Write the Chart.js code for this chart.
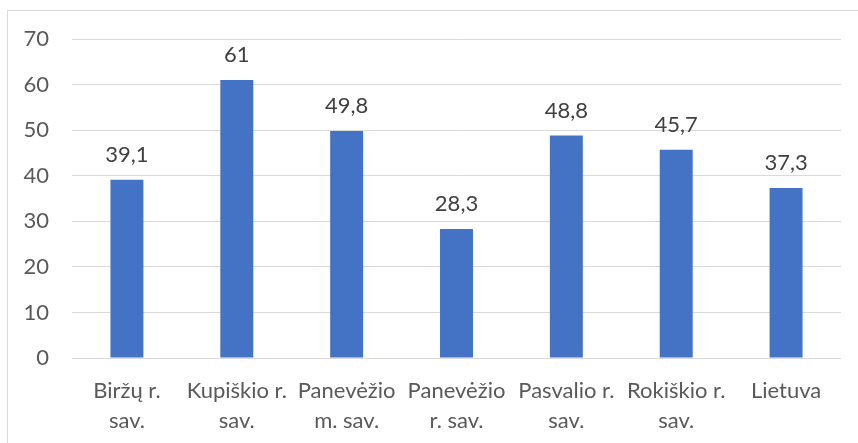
<!DOCTYPE html>
<html>
<head>
<meta charset="utf-8">
<script src="https://cdn.jsdelivr.net/npm/chart.js@4/dist/chart.umd.min.js"></script>
<style>
  html, body { margin: 0; padding: 0; background: #fff; }
  #wrap { position: relative; width: 858px; height: 443px; overflow: hidden; }
  #frame { position: absolute; left: 7px; top: 10px; width: 900px; height: 500px;
           border-left: 1px solid #d9d9d9; border-top: 1px solid #d9d9d9; }
  canvas { position: absolute; left: 0; top: 0; }
</style>
</head>
<body>
<div id="wrap">
  <div id="frame"></div>
  <canvas id="c" width="858" height="443"></canvas>
</div>
<script>
const categories = [
  ["Biržų r.", "sav."],
  ["Kupiškio r.", "sav."],
  ["Panevėžio", "m. sav."],
  ["Panevėžio", "r. sav."],
  ["Pasvalio r.", "sav."],
  ["Rokiškio r.", "sav."],
  ["Lietuva"]
];
const values = [39.1, 61, 49.8, 28.3, 48.8, 45.7, 37.3];
const yTicks = [0, 10, 20, 30, 40, 50, 60, 70];

const FONT = "Lato";

const labelPlugin = {
  id: 'valueLabels',
  afterDatasetsDraw(chart) {
    const ctx = chart.ctx;
    const meta = chart.getDatasetMeta(0);
    ctx.save();
    ctx.font = "22px " + FONT;
    ctx.fillStyle = "#404040";
    ctx.textAlign = "center";
    ctx.textBaseline = "middle";
    meta.data.forEach((bar, i) => {
      const txt = String(values[i]).replace('.', ',');
      ctx.fillText(txt, bar.x, bar.y - 25);
    });
    ctx.restore();
  }
};

new Chart(document.getElementById('c'), {
  type: 'bar',
  data: {
    labels: categories,
    datasets: [{
      data: values,
      backgroundColor: '#4472C4',
      barPercentage: 0.3,
      categoryPercentage: 1.0
    }]
  },
  options: {
    responsive: false,
    animation: false,
    layout: { padding: { left: 0, right: 17, top: 39, bottom: 0 } },
    plugins: { legend: { display: false }, tooltip: { enabled: false } },
    scales: {
      x: {
        grid: { display: false },
        border: { display: false },
        ticks: {
          color: '#595959',
          font: { family: FONT, size: 22, lineHeight: 1.36 },
          padding: 10,
          maxRotation: 0,
          autoSkip: false
        },
        afterFit(scale) { scale.height = 85; }
      },
      y: {
        min: 0, max: 70,
        afterBuildTicks(scale) { scale.ticks = yTicks.map(v => ({ value: v })); },
        grid: { color: '#d9d9d9', lineWidth: 1, drawTicks: false },
        border: { display: false },
        ticks: {
          color: '#595959',
          font: { family: FONT, size: 22 },
          padding: 23
        },
        afterFit(scale) { scale.width = 72; }
      }
    }
  },
  plugins: [labelPlugin]
});
</script>
</body>
</html>
